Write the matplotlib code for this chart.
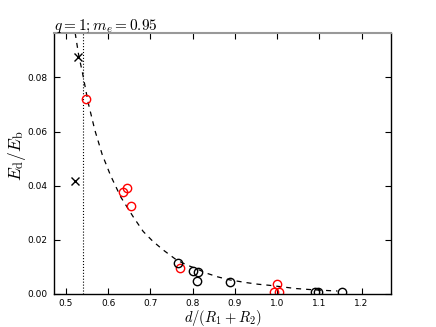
import matplotlib
matplotlib.use('Agg')
import matplotlib.pyplot as plt

# fitted curve
curve_x = [0.522, 0.530, 0.5395, 0.553, 0.5686, 0.586, 0.6057, 0.630, 0.659, 0.683,
           0.705, 0.730, 0.7617, 0.785, 0.8125, 0.8326, 0.860, 0.888, 0.927, 0.955,
           0.982, 1.045, 1.090, 1.128, 1.143]
curve_y = [0.0964, 0.0885, 0.0815, 0.0705, 0.0605, 0.0515, 0.0438, 0.0358, 0.0286, 0.0231,
           0.0196, 0.0163, 0.0126, 0.0108, 0.0091, 0.0077, 0.0063, 0.0052, 0.0042, 0.0036,
           0.0032, 0.0020, 0.0015, 0.0012, 0.0011]

cross_x = [0.528, 0.5205]
cross_y = [0.0876, 0.0419]

red_x = [0.548, 0.636, 0.644, 0.653, 0.770, 0.9996, 0.992, 1.004]
red_y = [0.0721, 0.0375, 0.0391, 0.0325, 0.0095, 0.0037, 0.0008, 0.0008]

black_x = [0.765, 0.800, 0.8135, 0.811, 0.888, 1.0887, 1.0975, 1.154]
black_y = [0.0113, 0.0086, 0.0080, 0.0048, 0.0043, 0.0008, 0.0008, 0.0007]

d_crit = 0.541

xticks = [0.5, 0.6, 0.7, 0.8, 0.9, 1.0, 1.1, 1.2]
yticks = [0.00, 0.02, 0.04, 0.06, 0.08]

plt.rcParams['mathtext.fontset'] = 'cm'

fig = plt.figure(figsize=(4.36, 3.27), dpi=100)
ax = fig.add_axes([0.124, 0.101, 0.773, 0.798])

ax.plot(curve_x, curve_y, color='k', linestyle='--', linewidth=0.9, dashes=(4, 4))
ax.axvline(d_crit, color='k', linestyle=':', linewidth=0.8)
ax.plot(cross_x, cross_y, 'kx', markersize=6, markeredgewidth=1)
ax.plot(red_x, red_y, 'o', markerfacecolor='none', markeredgecolor='r',
        markersize=6, markeredgewidth=1)
ax.plot(black_x, black_y, 'o', markerfacecolor='none', markeredgecolor='k',
        markersize=6, markeredgewidth=1)

ax.set_xlim(0.472, 1.27)
ax.set_ylim(0.0, 0.0964)
ax.set_xticks(xticks)
ax.set_yticks(yticks)
ax.set_xticklabels(['%.1f' % v for v in xticks])
ax.set_yticklabels(['%.2f' % v for v in yticks])
ax.tick_params(direction='in', top=True, right=True, length=4, width=0.8,
               labelsize=6.5, pad=5)
ax.tick_params(axis='x', pad=3.5)

for s in ['left', 'bottom', 'right']:
    ax.spines[s].set_linewidth(1.0)
ax.spines['top'].set_color('0.6')
ax.spines['top'].set_linewidth(1.5)

ax.set_xlabel(r'$d/(R_1+R_2)$', fontsize=10.5)
ax.set_ylabel(r'$E_{\rm d}/E_{\rm b}$', fontsize=12.5)
ax.xaxis.set_label_coords(0.5, -0.054)
ax.yaxis.set_label_coords(-0.077, 0.53)
ax.set_title(r'$q=1; m_e=0.95$', loc='left', fontsize=11, pad=2)

fig.savefig('out.png', dpi=100)
